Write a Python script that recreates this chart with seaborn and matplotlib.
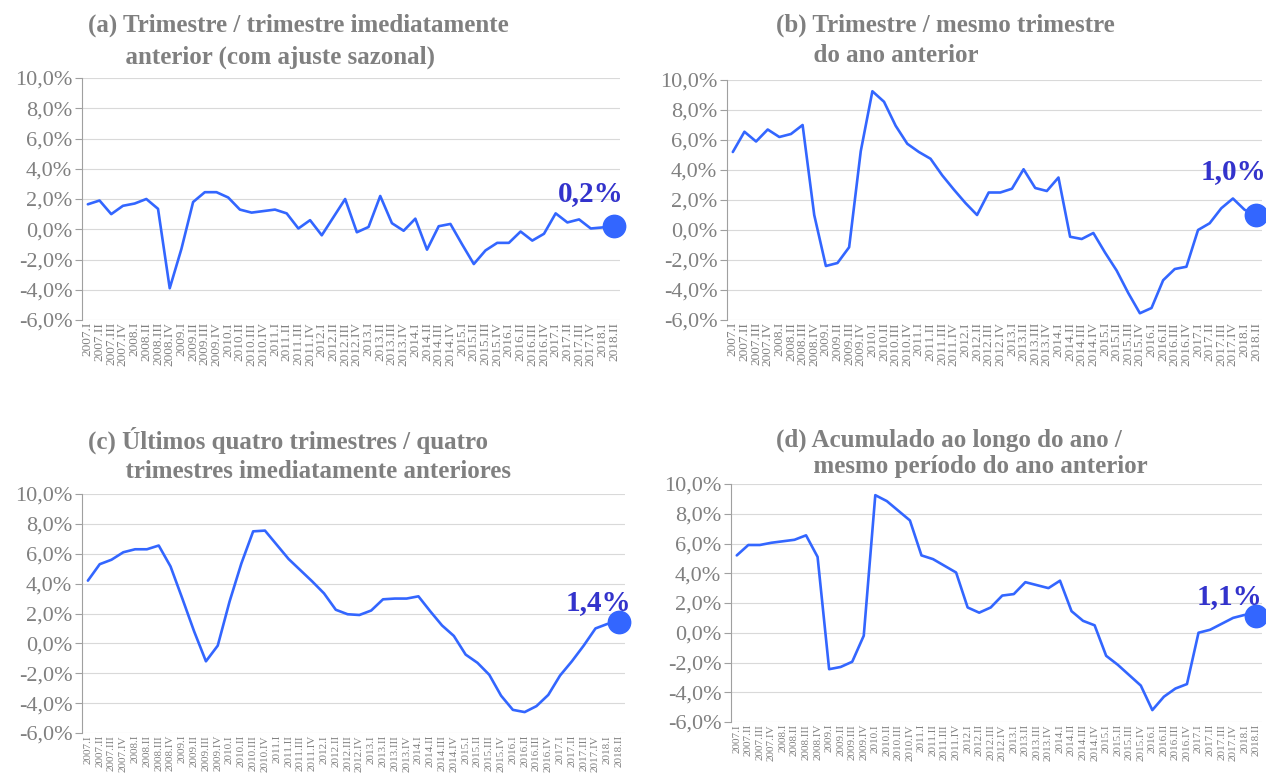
#!/usr/bin/env python3

import pandas as pd
import matplotlib.pyplot as plt
import seaborn as sns

# quarters 2007.I .. 2018.II
roman = ['I', 'II', 'III', 'IV']
quarters = [f'{y}.{r}' for y in range(2007, 2019) for r in roman][:46]

serie_a = [1.65, 1.9, 1.0, 1.55, 1.7, 2.0, 1.35, -3.9, -1.3, 1.8, 2.45, 2.45, 2.1, 1.3, 1.1, 1.2,
           1.3, 1.05, 0.05, 0.6, -0.4, 0.8, 2.0, -0.2, 0.15, 2.2, 0.4, -0.1, 0.7, -1.35, 0.2, 0.35,
           -1.0, -2.3, -1.4, -0.9, -0.9, -0.15, -0.75, -0.3, 1.05, 0.45, 0.65, 0.05, 0.12, 0.2]
serie_b = [5.2, 6.55, 5.9, 6.7, 6.2, 6.4, 7.0, 1.0, -2.4, -2.2, -1.15, 5.25, 9.25, 8.55, 6.95, 5.75,
           5.2, 4.75, 3.65, 2.7, 1.8, 1.0, 2.5, 2.5, 2.75, 4.05, 2.8, 2.6, 3.5, -0.45, -0.6, -0.2,
           -1.5, -2.7, -4.2, -5.55, -5.2, -3.35, -2.6, -2.45, 0.0, 0.45, 1.45, 2.1, 1.35, 1.0]
serie_c = [4.2, 5.3, 5.6, 6.1, 6.3, 6.3, 6.55, 5.15, 3.0, 0.8, -1.2, -0.15, 2.8, 5.35, 7.5, 7.55,
           6.6, 5.65, 4.9, 4.15, 3.35, 2.25, 1.95, 1.9, 2.2, 2.95, 3.0, 3.0, 3.15, 2.15, 1.2, 0.5,
           -0.75, -1.3, -2.1, -3.5, -4.45, -4.6, -4.2, -3.45, -2.15, -1.2, -0.15, 1.0, 1.3, 1.4]
serie_d = [5.2, 5.9, 5.9, 6.05, 6.15, 6.25, 6.55, 5.1, -2.45, -2.3, -1.95, -0.2, 9.25, 8.85, 8.2, 7.55,
           5.2, 4.95, 4.5, 4.05, 1.7, 1.35, 1.7, 2.5, 2.6, 3.4, 3.2, 3.0, 3.5, 1.45, 0.8, 0.5,
           -1.55, -2.15, -2.85, -3.55, -5.2, -4.3, -3.75, -3.45, 0.0, 0.2, 0.6, 1.0, 1.2, 1.1]

titles = [
    ('(a) Trimestre / trimestre imediatamente', '      anterior (com ajuste sazonal)'),
    ('(b) Trimestre / mesmo trimestre', '      do ano anterior'),
    ('(c) Últimos quatro trimestres / quatro', '      trimestres imediatamente anteriores'),
    ('(d) Acumulado ao longo do ano /', '      mesmo período do ano anterior'),
]
last_labels = ['0,2%', '1,0%', '1,4%', '1,1%']
yticks = [-6, -4, -2, 0, 2, 4, 6, 8, 10]

sns.set_style('white')
plt.rcParams['font.family'] = ['Liberation Serif', 'DejaVu Serif']

W, H = 1266, 775
fig = plt.figure(figsize=(W / 100, H / 100), dpi=100)

# axes boxes in pixels: left, top(10%), right, bottom(-6%)
boxes = [(82, 78, 620, 320), (727, 80, 1262, 320), (82, 494, 625, 733), (731, 484, 1262, 722)]
title_y = [(25, 57), (25, 55), (440, 471), (440, 467)]
title_x = [88, 776, 88, 776]
offsets = [(-23, 33), (-23, 43), (-21, 20), (-27, 20)]

line_col = '#3366ff'
txt_col = '#808080'

for k, serie in enumerate([serie_a, serie_b, serie_c, serie_d]):
    l, t, r, b = boxes[k]
    ax = fig.add_axes([l / W, 1 - b / H, (r - l) / W, (b - t) / H])
    df = pd.DataFrame({'pos': range(len(quarters)), 'valor': serie})
    sns.lineplot(data=df, x='pos', y='valor', ax=ax, color=line_col, linewidth=1.9)
    ax.scatter(df['pos'].iloc[-1], df['valor'].iloc[-1], s=260, color=line_col, zorder=5, clip_on=False)
    ax.annotate(last_labels[k], (df['pos'].iloc[-1], df['valor'].iloc[-1]),
                xytext=offsets[k], textcoords='offset pixels', ha='center', va='center',
                fontsize=21, fontweight='bold', color='#3333cc')

    ax.set_xlim(-0.5, 45.5)
    ax.set_ylim(-6, 10)
    ax.set_yticks(yticks)
    ax.set_yticklabels([f'{v},0%' for v in yticks], fontsize=16, color=txt_col)
    ax.set_xticks(range(len(quarters)))
    ax.set_xticklabels(quarters, rotation=90, fontsize=8 if k >= 2 else 9.5, color=txt_col)
    ax.tick_params(axis='x', length=0, pad=1.5)
    ax.tick_params(axis='y', length=5, color='#a0a0a0', width=0.8, pad=2, direction='out', left=True)
    ax.grid(axis='y', color='#d9d9d9', linewidth=0.8)
    ax.set_xlabel('')
    ax.set_ylabel('')
    for s in ['top', 'right', 'bottom']:
        ax.spines[s].set_visible(False)
    ax.spines['left'].set_color('#a0a0a0')
    ax.spines['left'].set_linewidth(0.8)

    l1, l2 = titles[k]
    fig.text(title_x[k] / W, 1 - title_y[k][0] / H, l1, ha='left', va='center',
             fontsize=18, fontweight='bold', color=txt_col)
    fig.text(title_x[k] / W, 1 - title_y[k][1] / H, l2, ha='left', va='center',
             fontsize=18, fontweight='bold', color=txt_col)

fig.savefig('out.png', dpi=100)
plt.close(fig)
